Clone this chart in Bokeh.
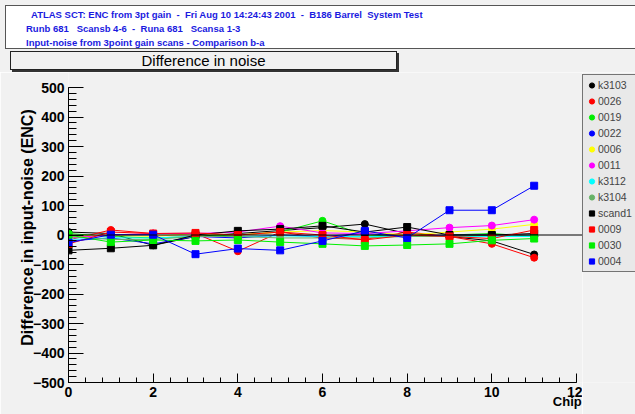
from bokeh.plotting import figure
from bokeh.models import (Range1d, Span, Legend, LegendItem, SingleIntervalTicker, Div,
                          LinearAxis, FixedTicker)
from bokeh.layouts import column, row
from bokeh.embed import file_html
from bokeh.resources import INLINE

# ---------------- data ----------------
chips = list(range(12))
names = ["k3103", "0026", "0019", "0022", "0006", "0011", "k3112", "k3104",
         "scand1", "0009", "0030", "0004"]
markers = ["circle"] * 8 + ["square"] * 4
colors = ["#000000", "#ff0000", "#00ee00", "#0000ff", "#ffff00", "#ff00ff",
          "#00ffff", "#66b266", "#000000", "#ff0000", "#00ee00", "#0000ff"]

k3103 = [10, 5, -35, -5, 5, 15, 25, 37, 5, -5, -20, -66]
s0026 = [-17, 17, 5, 5, -55, 10, -10, -15, 10, -5, -30, -77]
s0019 = [5, -5, -10, -5, 0, 10, 48, 0, -5, 0, 5, -5]
s0022 = [-20, -10, -30, -5, -10, 0, -5, 5, -5, 0, 0, 0]
s0006 = [-5, 0, -5, 5, 0, 10, 15, 10, 0, 10, 20, 36]
s0011 = [-10, 0, 5, 5, 10, 30, 7, 5, 14, 25, 32, 52]
k3112 = [-15, -10, -10, -5, -5, -3, -5, -5, -5, -5, -5, -5]
k3104 = [-5, -15, -15, -5, -5, -10, -10, -10, -5, -5, 0, 0]
scand1 = [-52, -45, -35, 0, 14, 20, 31, 10, 27, 0, 0, 5]
s0009 = [-30, 10, 5, 7, 0, 10, 0, -17, 0, -5, -12, 17]
s0030 = [0, -24, -17, -20, -17, -24, -30, -37, -34, -30, -18, -12]
s0004 = [-26, 1, 1, -65, -46, -52, -20, 14, -10, 84, 84, 167]
series = [k3103, s0026, s0019, s0022, s0006, s0011, k3112, k3104,
          scand1, s0009, s0030, s0004]

header_lines = [
    "ATLAS SCT: ENC from 3pt gain  -  Fri Aug 10 14:24:43 2001  -  B186 Barrel  System Test",
    "Runb 681   Scansb 4-6  -  Runa 681   Scansa 1-3",
    "Input-noise from 3point gain scans - Comparison b-a",
]
title_text = "Difference in noise"
ylabel = "Difference in input-noise (ENC)"
xlabel = "Chip"

FONT = "Liberation Sans"
PAD = "#f1f1f1"
HEAD_BLUE = "#1a1ae0"
W, H = 635, 414
DIV_H = 72

# ---------------- header + title box (HTML) ----------------
line_pos = [(31, 9), (26, 23), (26, 37)]
lines_html = "".join(
    f'<div style="position:absolute;left:{x}px;top:{y}px;white-space:pre;'
    f'font-weight:bold;font-size:9.5px;line-height:11px;color:{HEAD_BLUE};">{t}</div>'
    for t, (x, y) in zip(header_lines, line_pos))
header_html = (
    f'<div style="position:relative;width:{W}px;height:{DIV_H}px;background:{PAD};'
    f'overflow:hidden;font-family:\'{FONT}\';">'
    f'<div style="position:absolute;left:5px;top:5px;width:{W}px;height:44px;'
    f'background:white;border:1px solid #555555;box-sizing:border-box;"></div>'
    + lines_html +
    f'<div style="position:absolute;left:12px;top:53px;width:387px;height:19px;background:#333333;"></div>'
    f'<div style="position:absolute;left:10px;top:51px;width:387px;height:19px;background:{PAD};'
    f'border:1px solid #222222;box-sizing:border-box;text-align:center;font-size:15px;'
    f'line-height:17px;color:black;">{title_text}</div>'
    '</div>')
header = Div(text=header_html, width=W, height=DIV_H, margin=0)

# ---------------- main figure ----------------
FH = H - DIV_H                       # 342
MAIN_W = 582                         # main figure ends just right of x=12
LEG_W = W - MAIN_W                   # legend strip
FRAME_L, FRAME_B = 68, 382 - DIV_H   # frame left, frame bottom (canvas px)
PX_PER_CHIP = 508 / 12
PX_PER_ENC = 295 / 1000
x_end = 12 + (MAIN_W - 576) / PX_PER_CHIP
y_end = 500 + (87 - DIV_H) / PX_PER_ENC
CHIP_X = 11.82                       # where the "Chip" title sits along x

p = figure(width=MAIN_W, height=FH, output_backend="svg", toolbar_location=None,
           x_range=Range1d(0, x_end), y_range=Range1d(-500, y_end), title=None,
           min_border_left=FRAME_L, min_border_right=0, min_border_top=0,
           min_border_bottom=FH - FRAME_B, margin=0)
p.background_fill_color = PAD
p.border_fill_color = PAD
p.outline_line_color = None
p.xgrid.visible = False
p.ygrid.visible = False

p.yaxis.ticker = SingleIntervalTicker(interval=100, num_minor_ticks=5)
p.xaxis.ticker = SingleIntervalTicker(interval=2, num_minor_ticks=5)
p.yaxis.bounds = (-500, 500)
p.xaxis.bounds = (0, 12)
for ax in (p.xaxis, p.yaxis):
    ax.axis_line_color = "black"
    ax.major_tick_line_color = "black"
    ax.minor_tick_line_color = "black"
    ax.major_tick_out = 0
    ax.minor_tick_out = 0
    ax.major_label_text_font = FONT
    ax.major_label_text_font_style = "bold"
    ax.major_label_text_font_size = "14px"
    ax.major_label_text_color = "black"
p.yaxis.major_tick_in = 15
p.yaxis.minor_tick_in = 8
p.yaxis.major_label_standoff = 4
p.xaxis.major_tick_in = 9
p.xaxis.minor_tick_in = 5
p.xaxis.major_label_standoff = 4

p.yaxis.axis_label = ylabel
p.yaxis.axis_label_text_font = FONT
p.yaxis.axis_label_text_font_style = "bold"
p.yaxis.axis_label_text_font_size = "16px"
p.yaxis.axis_label_text_color = "black"
p.yaxis.axis_label_standoff = -6

# x title "Chip" at the right end, just under the tick labels
chip_axis = LinearAxis(ticker=FixedTicker(ticks=[CHIP_X], minor_ticks=[]),
                       major_label_overrides={CHIP_X: xlabel},
                       axis_line_color=None, major_tick_line_color=None,
                       minor_tick_line_color=None, major_tick_in=0, major_tick_out=0,
                       minor_tick_in=0, minor_tick_out=0,
                       major_label_text_font=FONT, major_label_text_font_style="bold",
                       major_label_text_font_size="13px", major_label_text_color="black",
                       major_label_standoff=-6)
p.add_layout(chip_axis, "below")

p.add_layout(Span(location=0, dimension="width", line_color="black", line_width=1))

for mk, col, ys in zip(markers, colors, series):
    p.line(chips, ys, line_color=col, line_width=1)
    p.scatter(chips, ys, marker=mk, size=7, fill_color=col, line_color=col)

# ---------------- legend strip (own small plot; its glyphs lie outside its view) ----
pl = figure(width=LEG_W, height=FH, output_backend="svg", toolbar_location=None,
            x_range=Range1d(100, 101), y_range=Range1d(-500, y_end), title=None,
            x_axis_type=None, y_axis_type=None, min_border=0, margin=0)
pl.background_fill_color = PAD
pl.border_fill_color = PAD
pl.outline_line_color = None
pl.xgrid.visible = False
pl.ygrid.visible = False
items = []
for name, mk, col, ys in zip(names, markers, colors, series):
    r = pl.scatter(chips, ys, marker=mk, size=7, fill_color=col, line_color=col)
    items.append(LegendItem(label=name, renderers=[r]))
# frame of this strip is aligned with the main frame (page y 72..382)
legend = Legend(items=items, location=(0, 382 - 272), margin=0, padding=2,
                spacing=0, glyph_width=13, glyph_height=16, label_height=16,
                label_width=35, label_standoff=0, label_text_font=FONT,
                label_text_font_size="10.5px",
                background_fill_color="#e9e9e9", background_fill_alpha=1.0,
                border_line_color="black", border_line_width=1)
pl.add_layout(legend, "center")

layout = column(header, row(p, pl, spacing=0), spacing=0)
open("out.html", "w").write(file_html(layout, INLINE))
